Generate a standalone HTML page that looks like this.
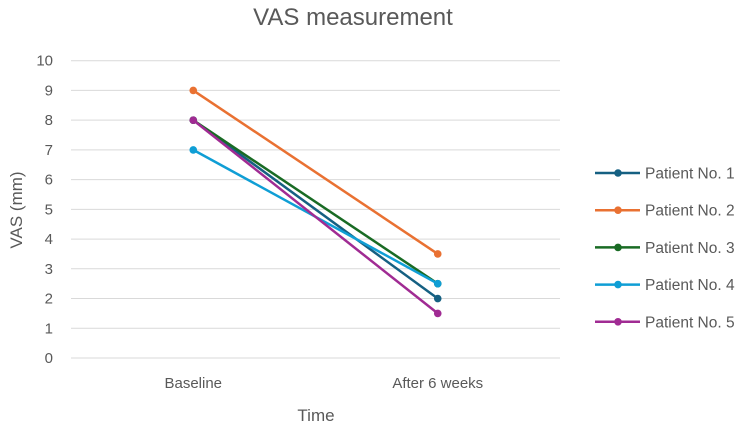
<!DOCTYPE html>
<html><head><meta charset="utf-8"><style>
body{margin:0;background:#fff;font-family:"Liberation Sans",sans-serif;}
svg text{font-family:"Liberation Sans",sans-serif;fill:#595959;}
</style></head><body>
<svg id="chart" width="750" height="428">
<text x="353" y="25" font-size="24" text-anchor="middle">VAS measurement</text>
<text x="22" y="210" font-size="17" text-anchor="middle" transform="rotate(-90 22 210)">VAS (mm)</text>
<text x="316" y="421" font-size="17" text-anchor="middle">Time</text>
<g id="grid"></g><g id="series"></g><g id="legend"></g>
</svg>
<script>
const categories=["Baseline","After 6 weeks"];
const seriesNames=["Patient No. 1","Patient No. 2","Patient No. 3","Patient No. 4","Patient No. 5"];
const p1=[8,2];
const p2=[9,3.5];
const p3=[8,2.5];
const p4=[7,2.5];
const p5=[8,1.5];
const yTicks=[0,1,2,3,4,5,6,7,8,9,10];
const values=[p1,p2,p3,p4,p5];
const colors=["#156082","#E97132","#196B24","#0F9ED5","#A02B93"];
const NS="http://www.w3.org/2000/svg";
const L=71,R=560,T=60.7,B=358;
const y=v=>B-(v/10)*(B-T);
const x=i=>L+(i+0.5)*(R-L)/categories.length;
function mk(t,a,p){const e=document.createElementNS(NS,t);for(const k in a)e.setAttribute(k,a[k]);p.appendChild(e);return e;}
const g=document.getElementById('grid');
yTicks.forEach(t=>{
 const l=mk('line',{x1:L,x2:R,y1:y(t),y2:y(t),stroke:'#d9d9d9','stroke-width':1},g);
 
 
 const tx=mk('text',{x:53,y:y(t)+5,'font-size':15,'text-anchor':'end'},g);tx.textContent=t;
 
 
});
categories.forEach((c,i)=>{
 const tx=mk('text',{x:x(i),y:388,'font-size':15,'text-anchor':'middle'},g);tx.textContent=c;
 
 
});
const s=document.getElementById('series');
values.forEach((vals,k)=>{
 const pl=mk('polyline',{points:vals.map((v,i)=>x(i)+','+y(v)).join(' '),fill:'none',stroke:colors[k],'stroke-width':2.5},s);
 
 
 vals.forEach((v,i)=>{
  const c=mk('circle',{cx:x(i),cy:y(v),r:3.8,fill:colors[k]},s);
  
  
 });
});
const lg=document.getElementById('legend');
seriesNames.forEach((n,k)=>{
 const yy=173+k*37.2;
 const gr=mk('g',{},lg);
 
 
 mk('line',{x1:595,x2:640,y1:yy,y2:yy,stroke:colors[k],'stroke-width':2.5},gr);
 mk('circle',{cx:618,cy:yy,r:3.8,fill:colors[k]},gr);
 const t=mk('text',{x:645,y:yy+5.5,'font-size':15.5},gr);t.textContent=n;
});
</script>
</body></html>
